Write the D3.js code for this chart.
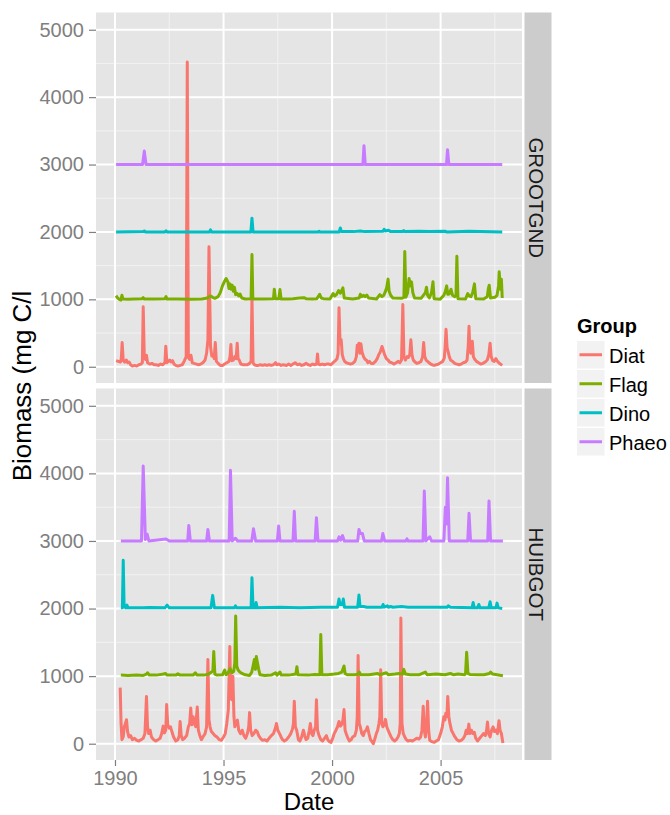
<!DOCTYPE html>
<html>
<head>
<meta charset="utf-8">
<script src="https://cdnjs.cloudflare.com/ajax/libs/d3/7.8.5/d3.min.js"></script>
<style>
    body { margin: 0; background: #fff; }
    text { font-family: "Liberation Sans", Arial, sans-serif; }
</style>
</head>
<body>
<svg id="chart" width="670" height="815"></svg>
<script>
// facets and groups as drawn in the plot
var sites = ['GROOTGND', 'HUIBGOT'];
var groups = ['Diat', 'Flag', 'Dino', 'Phaeo'];
var groupColors = ['#F8766D', '#7CAE00', '#00BFC4', '#C77CFF'];
var yearTicks = [1990, 1995, 2000, 2005];
var yearMinor = [1992.5, 1997.5, 2002.5, 2007.5];
var biomassTicks = [0, 1000, 2000, 3000, 4000, 5000];
var biomassMinor = [500, 1500, 2500, 3500, 4500];

// [decimal year, plotted biomass] (groups stacked by 1000)
var grootDiat = [[1990.05, 90], [1990.15, 80], [1990.25, 70], [1990.29, 120], [1990.33, 360], [1990.38, 90], [1990.45, 70], [1990.52, 100],
    [1990.58, 60], [1990.65, 70], [1990.72, 30], [1990.8, 10], [1990.9, 20], [1991.0, 10], [1991.1, 30], [1991.2, 40], [1991.26, 60],
    [1991.3, 890], [1991.35, 140], [1991.4, 110], [1991.45, 170], [1991.5, 60], [1991.6, 40], [1991.7, 50], [1991.8, 30], [1991.9, 30],
    [1992.0, 20], [1992.1, 40], [1992.2, 30], [1992.3, 60], [1992.34, 305], [1992.39, 60], [1992.45, 80], [1992.52, 100], [1992.58, 70],
    [1992.65, 90], [1992.72, 40], [1992.8, 20], [1992.9, 10], [1993.0, 20], [1993.1, 30], [1993.2, 90], [1993.28, 150], [1993.33, 4520],
    [1993.38, 140], [1993.44, 110], [1993.5, 170], [1993.56, 60], [1993.65, 50], [1993.75, 40], [1993.85, 30], [1993.95, 40], [1994.05, 60],
    [1994.15, 100], [1994.22, 200], [1994.28, 400], [1994.33, 1780], [1994.4, 300], [1994.46, 160], [1994.52, 180], [1994.57, 120],
    [1994.62, 360], [1994.67, 80], [1994.75, 50], [1994.85, 20], [1994.95, 20], [1995.05, 40], [1995.15, 60], [1995.25, 80], [1995.3, 150],
    [1995.34, 330], [1995.38, 90], [1995.45, 100], [1995.52, 150], [1995.58, 120], [1995.63, 350], [1995.67, 120], [1995.72, 100],
    [1995.8, 40], [1995.9, 30], [1996.0, 30], [1996.1, 30], [1996.2, 50], [1996.27, 80], [1996.31, 1050], [1996.36, 60], [1996.42, 30],
    [1996.5, 20], [1996.6, 20], [1996.7, 30], [1996.8, 20], [1996.9, 30], [1997.0, 20], [1997.1, 30], [1997.2, 20], [1997.3, 30],
    [1997.4, 60], [1997.45, 30], [1997.55, 40], [1997.65, 20], [1997.75, 30], [1997.9, 20], [1998.0, 40], [1998.1, 20], [1998.2, 40],
    [1998.3, 60], [1998.4, 30], [1998.5, 40], [1998.6, 20], [1998.7, 30], [1998.8, 50], [1998.9, 30], [1999.0, 20], [1999.1, 40],
    [1999.2, 30], [1999.29, 40], [1999.33, 190], [1999.37, 40], [1999.45, 30], [1999.55, 40], [1999.65, 30], [1999.75, 40], [1999.85, 40],
    [1999.95, 30], [2000.05, 60], [2000.15, 90], [2000.23, 120], [2000.28, 200], [2000.32, 875], [2000.37, 350], [2000.42, 400],
    [2000.47, 180], [2000.52, 120], [2000.58, 80], [2000.65, 60], [2000.75, 50], [2000.85, 40], [2000.95, 50], [2001.05, 80], [2001.12, 150],
    [2001.16, 320], [2001.2, 250], [2001.24, 350], [2001.28, 200], [2001.33, 340], [2001.38, 220], [2001.45, 150], [2001.52, 110],
    [2001.58, 100], [2001.65, 60], [2001.72, 80], [2001.8, 50], [2001.9, 50], [2002.0, 80], [2002.08, 120], [2002.15, 180], [2002.22, 220],
    [2002.3, 300], [2002.36, 240], [2002.42, 180], [2002.5, 120], [2002.58, 100], [2002.65, 70], [2002.75, 60], [2002.85, 40], [2002.95, 60],
    [2003.05, 80], [2003.12, 60], [2003.2, 100], [2003.26, 925], [2003.31, 150], [2003.38, 100], [2003.46, 150], [2003.52, 140],
    [2003.58, 180], [2003.63, 400], [2003.68, 180], [2003.74, 100], [2003.82, 70], [2003.9, 50], [2004.0, 60], [2004.1, 80], [2004.17, 150],
    [2004.22, 360], [2004.27, 150], [2004.33, 100], [2004.4, 80], [2004.5, 50], [2004.6, 30], [2004.7, 20], [2004.8, 30], [2004.9, 40],
    [2005.0, 60], [2005.1, 80], [2005.17, 130], [2005.21, 300], [2005.25, 555], [2005.3, 280], [2005.35, 220], [2005.4, 150], [2005.46, 100],
    [2005.55, 80], [2005.65, 50], [2005.75, 40], [2005.85, 30], [2005.95, 40], [2006.05, 60], [2006.15, 70], [2006.22, 100], [2006.27, 300],
    [2006.31, 600], [2006.35, 230], [2006.4, 200], [2006.46, 380], [2006.51, 150], [2006.57, 110], [2006.65, 80], [2006.75, 60],
    [2006.85, 40], [2006.95, 50], [2007.05, 70], [2007.15, 100], [2007.22, 180], [2007.28, 350], [2007.33, 150], [2007.4, 90], [2007.47, 80],
    [2007.55, 120], [2007.6, 90], [2007.68, 60], [2007.76, 40], [2007.84, 20]];
var grootFlag = [[1990.05, 1055], [1990.12, 1020], [1990.2, 1000], [1990.27, 990], [1990.32, 1060], [1990.37, 1005], [1990.6, 1000],
    [1990.9, 1005], [1991.25, 1010], [1991.3, 1025], [1991.35, 1005], [1991.8, 1005], [1992.3, 1010], [1992.35, 1040], [1992.4, 1005],
    [1992.9, 1005], [1993.5, 1000], [1994.0, 1005], [1994.2, 1015], [1994.3, 1030], [1994.4, 1050], [1994.5, 1030], [1994.6, 1015],
    [1994.75, 1040], [1994.85, 1100], [1994.95, 1200], [1995.05, 1270], [1995.12, 1310], [1995.2, 1260], [1995.25, 1160], [1995.3, 1230],
    [1995.35, 1150], [1995.4, 1210], [1995.45, 1120], [1995.5, 1180], [1995.56, 1070], [1995.62, 1090], [1995.7, 1050], [1995.76, 1080],
    [1995.84, 1020], [1996.0, 1005], [1996.27, 1010], [1996.31, 1665], [1996.35, 1005], [1996.8, 1005], [1997.3, 1010], [1997.34, 1150],
    [1997.39, 1010], [1997.55, 1010], [1997.6, 1145], [1997.65, 1005], [1998.0, 1005], [1998.2, 1010], [1998.5, 1020], [1998.7, 1025],
    [1998.8, 1010], [1999.1, 1005], [1999.3, 1010], [1999.43, 1075], [1999.5, 1020], [1999.6, 1010], [1999.9, 1005], [2000.05, 1085],
    [2000.12, 1050], [2000.2, 1070], [2000.3, 1130], [2000.38, 1090], [2000.5, 1170], [2000.56, 1020], [2000.95, 1005], [2001.25, 1020],
    [2001.3, 1075], [2001.38, 1040], [2001.45, 1060], [2001.52, 1040], [2001.6, 1065], [2001.68, 1020], [2002.05, 1005], [2002.2, 1070],
    [2002.3, 1040], [2002.38, 1060], [2002.45, 1110], [2002.52, 1180], [2002.58, 1300], [2002.63, 1120], [2002.7, 1060], [2002.8, 1020],
    [2003.2, 1015], [2003.31, 1030], [2003.35, 1710], [2003.4, 1030], [2003.48, 1100], [2003.55, 1310], [2003.6, 1200], [2003.66, 1260],
    [2003.72, 1100], [2003.8, 1020], [2004.1, 1015], [2004.3, 1100], [2004.35, 1180], [2004.4, 1060], [2004.48, 1020], [2004.58, 1100],
    [2004.65, 1260], [2004.7, 1010], [2004.98, 1000], [2005.15, 1060], [2005.22, 1120], [2005.28, 1200], [2005.33, 1075], [2005.4, 1080],
    [2005.48, 1150], [2005.55, 1060], [2005.65, 1040], [2005.71, 1060], [2005.75, 1640], [2005.8, 1010], [2006.15, 1005], [2006.25, 1085],
    [2006.32, 1050], [2006.4, 1040], [2006.48, 1100], [2006.56, 1230], [2006.62, 1010], [2006.98, 1005], [2007.15, 1040], [2007.2, 1160],
    [2007.24, 1210], [2007.3, 1020], [2007.5, 1030], [2007.6, 1060], [2007.67, 1200], [2007.7, 1410], [2007.75, 1150], [2007.8, 1300],
    [2007.84, 1020]];
var grootDino = [[1990.05, 2000], [1991.3, 2005], [1991.35, 2015], [1991.4, 2000], [1992.3, 2000], [1992.35, 2015], [1992.4, 2000],
    [1994.35, 2000], [1994.4, 2030], [1994.45, 2000], [1996.26, 2000], [1996.31, 2205], [1996.36, 2000], [1999.35, 2000], [1999.4, 2010],
    [1999.45, 2000], [2000.33, 2000], [2000.38, 2060], [2000.43, 2005], [2001.0, 2005], [2001.3, 2015], [2001.5, 2005], [2002.35, 2010],
    [2002.4, 2040], [2002.45, 2015], [2002.6, 2025], [2002.7, 2005], [2003.25, 2005], [2003.3, 2020], [2003.35, 2005], [2004.0, 2010],
    [2004.5, 2005], [2005.2, 2010], [2005.3, 2000], [2006.3, 2010], [2007.84, 2000]];
var grootPhaeo = [[1990.05, 3000], [1991.27, 3000], [1991.35, 3200], [1991.43, 3000], [2001.42, 3000], [2001.47, 3280], [2001.53, 3000],
    [2005.27, 3000], [2005.32, 3220], [2005.38, 3000], [2007.84, 3000]];

var huibDiat = [[1990.24, 830], [1990.28, 300], [1990.32, 60], [1990.38, 100], [1990.43, 250], [1990.48, 300], [1990.53, 355], [1990.58, 180],
    [1990.64, 100], [1990.72, 120], [1990.8, 60], [1990.9, 80], [1991.0, 50], [1991.1, 40], [1991.2, 60], [1991.3, 80], [1991.38, 150],
    [1991.45, 700], [1991.5, 250], [1991.55, 150], [1991.62, 200], [1991.68, 100], [1991.78, 60], [1991.88, 40], [1991.98, 60], [1992.08, 80],
    [1992.15, 150], [1992.22, 260], [1992.28, 160], [1992.34, 200], [1992.38, 580], [1992.43, 280], [1992.5, 230], [1992.56, 250],
    [1992.62, 180], [1992.7, 100], [1992.8, 40], [1992.9, 60], [1992.96, 120], [1993.0, 330], [1993.05, 120], [1993.12, 60], [1993.2, 80],
    [1993.3, 120], [1993.38, 250], [1993.44, 300], [1993.49, 530], [1993.54, 280], [1993.6, 400], [1993.66, 300], [1993.72, 250],
    [1993.79, 545], [1993.84, 200], [1993.9, 130], [1993.98, 60], [1994.05, 100], [1994.15, 150], [1994.22, 250], [1994.28, 1245],
    [1994.33, 350], [1994.38, 250], [1994.44, 180], [1994.52, 150], [1994.6, 120], [1994.7, 100], [1994.8, 60], [1994.9, 50], [1995.0, 100],
    [1995.08, 150], [1995.15, 300], [1995.22, 500], [1995.29, 1440], [1995.33, 700], [1995.38, 650], [1995.43, 1000], [1995.48, 400],
    [1995.52, 250], [1995.58, 300], [1995.64, 350], [1995.7, 200], [1995.78, 150], [1995.86, 200], [1995.94, 120], [1996.02, 80],
    [1996.1, 150], [1996.16, 250], [1996.2, 460], [1996.25, 200], [1996.32, 120], [1996.4, 150], [1996.48, 200], [1996.55, 180],
    [1996.62, 120], [1996.7, 80], [1996.8, 50], [1996.9, 60], [1997.0, 40], [1997.1, 80], [1997.2, 120], [1997.3, 150], [1997.38, 220],
    [1997.44, 300], [1997.5, 200], [1997.58, 150], [1997.65, 100], [1997.72, 60], [1997.8, 40], [1997.9, 60], [1998.0, 100], [1998.1, 150],
    [1998.18, 220], [1998.22, 300], [1998.26, 630], [1998.31, 250], [1998.37, 200], [1998.45, 60], [1998.52, 40], [1998.6, 100],
    [1998.68, 200], [1998.74, 120], [1998.8, 60], [1998.88, 80], [1998.95, 200], [1999.0, 300], [1999.06, 150], [1999.12, 120],
    [1999.18, 200], [1999.24, 250], [1999.28, 650], [1999.33, 200], [1999.4, 120], [1999.48, 60], [1999.56, 40], [1999.65, 80],
    [1999.74, 120], [1999.8, 60], [1999.88, 30], [1999.95, 20], [2000.03, 80], [2000.1, 150], [2000.18, 200], [2000.25, 250], [2000.32, 330],
    [2000.38, 260], [2000.44, 280], [2000.5, 350], [2000.55, 505], [2000.6, 200], [2000.66, 140], [2000.73, 80], [2000.8, 40], [2000.88, 60],
    [2000.95, 100], [2001.05, 120], [2001.12, 200], [2001.16, 400], [2001.2, 1305], [2001.25, 300], [2001.3, 250], [2001.37, 150],
    [2001.44, 120], [2001.5, 180], [2001.57, 200], [2001.63, 250], [2001.7, 150], [2001.77, 60], [2001.84, 30], [2001.9, 0], [2001.96, 60],
    [2002.04, 150], [2002.1, 200], [2002.16, 300], [2002.2, 400], [2002.24, 1095], [2002.29, 300], [2002.34, 250], [2002.4, 280],
    [2002.46, 360], [2002.52, 250], [2002.58, 200], [2002.65, 150], [2002.72, 100], [2002.8, 60], [2002.88, 40], [2002.96, 60], [2003.04, 100],
    [2003.1, 150], [2003.14, 300], [2003.17, 1860], [2003.22, 300], [2003.28, 150], [2003.35, 100], [2003.42, 60], [2003.5, 40], [2003.6, 50],
    [2003.7, 40], [2003.8, 60], [2003.9, 80], [2004.0, 70], [2004.08, 100], [2004.14, 200], [2004.2, 555], [2004.25, 200], [2004.3, 100],
    [2004.35, 250], [2004.4, 630], [2004.45, 200], [2004.5, 50], [2004.6, 30], [2004.7, 20], [2004.8, 40], [2004.9, 60], [2005.0, 150],
    [2005.08, 250], [2005.15, 400], [2005.2, 350], [2005.24, 450], [2005.29, 400], [2005.33, 700], [2005.38, 400], [2005.43, 300],
    [2005.5, 200], [2005.58, 150], [2005.66, 100], [2005.75, 60], [2005.85, 40], [2005.95, 50], [2006.05, 80], [2006.12, 120], [2006.18, 200],
    [2006.24, 150], [2006.3, 290], [2006.35, 150], [2006.42, 200], [2006.48, 150], [2006.55, 170], [2006.62, 80], [2006.7, 40], [2006.8, 80],
    [2006.9, 120], [2006.98, 150], [2007.06, 120], [2007.12, 200], [2007.16, 320], [2007.21, 150], [2007.28, 100], [2007.35, 200],
    [2007.42, 250], [2007.48, 180], [2007.55, 200], [2007.62, 150], [2007.69, 340], [2007.74, 200], [2007.8, 150], [2007.87, 10]];
var huibFlag = [[1990.27, 1015], [1990.6, 1010], [1991.0, 1015], [1991.3, 1010], [1991.45, 1030], [1991.5, 1050], [1991.58, 1015],
    [1991.9, 1015], [1992.25, 1030], [1992.32, 1040], [1992.4, 1015], [1992.8, 1015], [1992.9, 1035], [1993.0, 1015], [1993.6, 1015],
    [1993.7, 1050], [1993.78, 1015], [1994.1, 1015], [1994.3, 1030], [1994.45, 1060], [1994.51, 1080], [1994.55, 1365], [1994.6, 1030],
    [1994.7, 1015], [1994.95, 1020], [1995.05, 1090], [1995.12, 1020], [1995.2, 1040], [1995.3, 1110], [1995.4, 1050], [1995.47, 1070],
    [1995.52, 1200], [1995.56, 1890], [1995.61, 1150], [1995.67, 1090], [1995.75, 1060], [1995.85, 1040], [1996.0, 1020], [1996.2, 1010],
    [1996.3, 1060], [1996.36, 1150], [1996.42, 1245], [1996.47, 1100], [1996.51, 1290], [1996.56, 1200], [1996.62, 1100], [1996.68, 1020],
    [1996.9, 1010], [1997.2, 1015], [1997.4, 1050], [1997.46, 1015], [1997.6, 1060], [1997.66, 1015], [1998.0, 1015], [1998.33, 1030],
    [1998.38, 1140], [1998.43, 1020], [1998.9, 1015], [1999.2, 1025], [1999.44, 1020], [1999.48, 1615], [1999.53, 1020], [1999.8, 1020],
    [2000.1, 1030], [2000.3, 1040], [2000.45, 1060], [2000.55, 1150], [2000.6, 1040], [2000.7, 1020], [2001.05, 1020], [2001.2, 1030],
    [2001.25, 1060], [2001.32, 1020], [2001.7, 1020], [2002.1, 1040], [2002.2, 1020], [2002.5, 1050], [2002.6, 1020], [2002.9, 1030],
    [2003.1, 1040], [2003.25, 1030], [2003.3, 1100], [2003.38, 1030], [2003.6, 1020], [2004.0, 1020], [2004.3, 1060], [2004.38, 1020],
    [2004.8, 1030], [2005.2, 1020], [2005.45, 1040], [2005.6, 1020], [2005.8, 1030], [2006.1, 1020], [2006.15, 1040], [2006.2, 1355],
    [2006.26, 1040], [2006.35, 1025], [2006.7, 1020], [2007.0, 1020], [2007.25, 1040], [2007.3, 1060], [2007.4, 1030], [2007.6, 1020],
    [2007.87, 1005]];
var huibDino = [[1990.27, 2010], [1990.34, 2010], [1990.38, 2715], [1990.42, 2030], [1990.5, 2010], [1990.55, 2050], [1990.6, 2010],
    [1991.3, 2010], [1991.6, 2015], [1992.3, 2010], [1992.4, 2050], [1992.5, 2010], [1993.3, 2010], [1994.42, 2010], [1994.5, 2195],
    [1994.58, 2010], [1995.5, 2010], [1995.55, 2040], [1995.6, 2010], [1996.27, 2010], [1996.31, 2455], [1996.36, 2010], [1996.46, 2010],
    [1996.5, 2090], [1996.55, 2010], [1997.6, 2020], [1998.5, 2010], [1999.5, 2020], [2000.25, 2020], [2000.32, 2140], [2000.37, 2060],
    [2000.42, 2060], [2000.47, 2060], [2000.52, 2140], [2000.57, 2020], [2001.18, 2020], [2001.24, 2200], [2001.29, 2030], [2001.45, 2030],
    [2001.6, 2020], [2002.3, 2020], [2002.35, 2060], [2002.4, 2020], [2002.55, 2040], [2002.6, 2020], [2002.7, 2030], [2002.8, 2020],
    [2003.2, 2030], [2003.5, 2020], [2004.2, 2020], [2005.3, 2020], [2005.35, 2040], [2005.45, 2020], [2006.45, 2010], [2006.5, 2090],
    [2006.55, 2010], [2006.7, 2010], [2006.76, 2060], [2006.82, 2010], [2007.22, 2010], [2007.28, 2100], [2007.33, 2010], [2007.55, 2010],
    [2007.6, 2080], [2007.66, 2010], [2007.84, 2000]];
var huibPhaeo = [[1990.27, 3000], [1991.22, 3000], [1991.3, 4110], [1991.4, 3020], [1991.48, 3100], [1991.56, 3000], [1992.35, 3030],
    [1992.5, 3000], [1993.35, 3000], [1993.4, 3230], [1993.47, 3000], [1994.22, 3000], [1994.28, 3170], [1994.35, 3000], [1995.26, 3000],
    [1995.32, 4045], [1995.4, 3000], [1995.55, 3040], [1995.65, 3000], [1996.3, 3000], [1996.38, 3180], [1996.48, 3000], [1997.48, 3000],
    [1997.54, 3220], [1997.6, 3000], [1998.2, 3000], [1998.26, 3440], [1998.32, 3000], [1999.22, 3000], [1999.28, 3345], [1999.35, 3000],
    [2000.25, 3000], [2000.32, 3060], [2000.4, 3010], [2000.48, 3080], [2000.56, 3000], [2001.18, 3000], [2001.24, 3170], [2001.3, 3110],
    [2001.4, 3110], [2001.48, 3000], [2002.28, 3000], [2002.34, 3110], [2002.42, 3000], [2003.4, 3000], [2003.45, 3030], [2003.5, 3000],
    [2004.19, 3000], [2004.25, 3740], [2004.32, 3000], [2004.5, 3060], [2004.58, 3000], [2005.15, 3000], [2005.22, 3500], [2005.27, 3250],
    [2005.32, 3935], [2005.4, 3000], [2006.25, 3000], [2006.31, 3410], [2006.38, 3000], [2007.17, 3000], [2007.23, 3590], [2007.3, 3000],
    [2007.87, 3000]];

var siteSeries = [
    [grootDiat, grootFlag, grootDino, grootPhaeo],
    [huibDiat, huibFlag, huibDino, huibPhaeo]
];

var svg = d3.select('#chart');
svg.append('rect').attr('width', 670).attr('height', 815).attr('fill', '#fff');

var panelLeft = 96, panelRight = 522;
var panels = [{top: 12.5, bottom: 383}, {top: 388.5, bottom: 760}];
var axisGrey = '#7F7F7F';

var x = d3.scaleLinear().domain([1989.125, 2008.75]).range([panelLeft, panelRight]);

function styleAxis(g) {
    g.select('.domain').remove();
    g.selectAll('.tick line').attr('stroke', axisGrey).attr('stroke-width', 1.2);
    g.selectAll('.tick text')
        .attr('fill', axisGrey)
        .style('font-size', '20px')
        .style('font-family', '"Liberation Sans", Arial, sans-serif');
}

sites.forEach(function (site, i) {
    var p = panels[i];
    var y = d3.scaleLinear().domain([-241, 5256]).range([p.bottom, p.top]);
    var g = svg.append('g');

    g.append('rect')
        .attr('x', panelLeft).attr('y', p.top)
        .attr('width', panelRight - panelLeft).attr('height', p.bottom - p.top)
        .attr('fill', '#E5E5E5');

    // minor grid first, then major
    g.selectAll('.yminor').data(biomassMinor).enter().append('line')
        .attr('x1', panelLeft).attr('x2', panelRight)
        .attr('y1', y).attr('y2', y)
        .attr('stroke', '#F2F2F2').attr('stroke-width', 1);
    g.selectAll('.xminor').data(yearMinor).enter().append('line')
        .attr('x1', x).attr('x2', x)
        .attr('y1', p.top).attr('y2', p.bottom)
        .attr('stroke', '#F2F2F2').attr('stroke-width', 1);
    g.selectAll('.ymajor').data(biomassTicks).enter().append('line')
        .attr('x1', panelLeft).attr('x2', panelRight)
        .attr('y1', y).attr('y2', y)
        .attr('stroke', '#fff').attr('stroke-width', 2);
    g.selectAll('.xmajor').data(yearTicks).enter().append('line')
        .attr('x1', x).attr('x2', x)
        .attr('y1', p.top).attr('y2', p.bottom)
        .attr('stroke', '#fff').attr('stroke-width', 2);

    var clipId = 'clip' + i;
    svg.append('clipPath').attr('id', clipId).append('rect')
        .attr('x', panelLeft).attr('y', p.top)
        .attr('width', panelRight - panelLeft).attr('height', p.bottom - p.top);

    var line = d3.line()
        .x(function (d) { return x(d[0]); })
        .y(function (d) { return y(d[1]); });

    g.append('g').attr('clip-path', 'url(#' + clipId + ')')
        .selectAll('path').data(siteSeries[i]).enter().append('path')
        .attr('d', line)
        .attr('fill', 'none')
        .attr('stroke', function (d, k) { return groupColors[k]; })
        .attr('stroke-width', 3)
        .attr('stroke-linejoin', 'round')
        .attr('stroke-linecap', 'butt');

    // strip on the right
    svg.append('rect')
        .attr('x', 524.5).attr('y', p.top)
        .attr('width', 27).attr('height', p.bottom - p.top)
        .attr('fill', '#CCCCCC');
    svg.append('text')
        .attr('transform', 'translate(536.5,' + ((p.top + p.bottom) / 2) + ') rotate(90)')
        .attr('text-anchor', 'middle')
        .attr('dy', '0.35em')
        .attr('fill', '#1A1A1A')
        .style('font-size', '20.5px')
        .text(site);

    svg.append('g')
        .attr('transform', 'translate(' + panelLeft + ',0)')
        .call(d3.axisLeft(y).tickValues(biomassTicks).tickSize(7).tickPadding(5).tickFormat(d3.format('d')))
        .call(styleAxis);

    if (i === sites.length - 1) {
        svg.append('g')
            .attr('transform', 'translate(0,' + p.bottom + ')')
            .call(d3.axisBottom(x).tickValues(yearTicks).tickSize(6).tickPadding(5).tickFormat(d3.format('d')))
            .call(styleAxis);
    }
});

// axis titles
svg.append('text')
    .attr('x', (panelLeft + panelRight) / 2).attr('y', 810)
    .attr('text-anchor', 'middle')
    .style('font-size', '24px')
    .text('Date');
svg.append('text')
    .attr('transform', 'translate(31,386) rotate(-90)')
    .attr('text-anchor', 'middle')
    .style('font-size', '26px')
    .text('Biomass (mg C/l');

// legend
var legend = svg.append('g').attr('transform', 'translate(577,0)');
legend.append('text')
    .attr('x', 0).attr('y', 333)
    .style('font-size', '20px').style('font-weight', 'bold')
    .text('Group');
var keys = legend.selectAll('.key').data(groups).enter().append('g')
    .attr('transform', function (d, k) { return 'translate(0,' + (341 + k * 29) + ')'; });
keys.append('rect')
    .attr('width', 27.5).attr('height', 27.5)
    .attr('fill', '#F2F2F2');
keys.append('line')
    .attr('x1', 2.5).attr('x2', 25).attr('y1', 13.75).attr('y2', 13.75)
    .attr('stroke', function (d, k) { return groupColors[k]; })
    .attr('stroke-width', 3);
keys.append('text')
    .attr('x', 32).attr('y', 21.5)
    .style('font-size', '20px')
    .text(function (d) { return d; });
</script>
</body>
</html>
